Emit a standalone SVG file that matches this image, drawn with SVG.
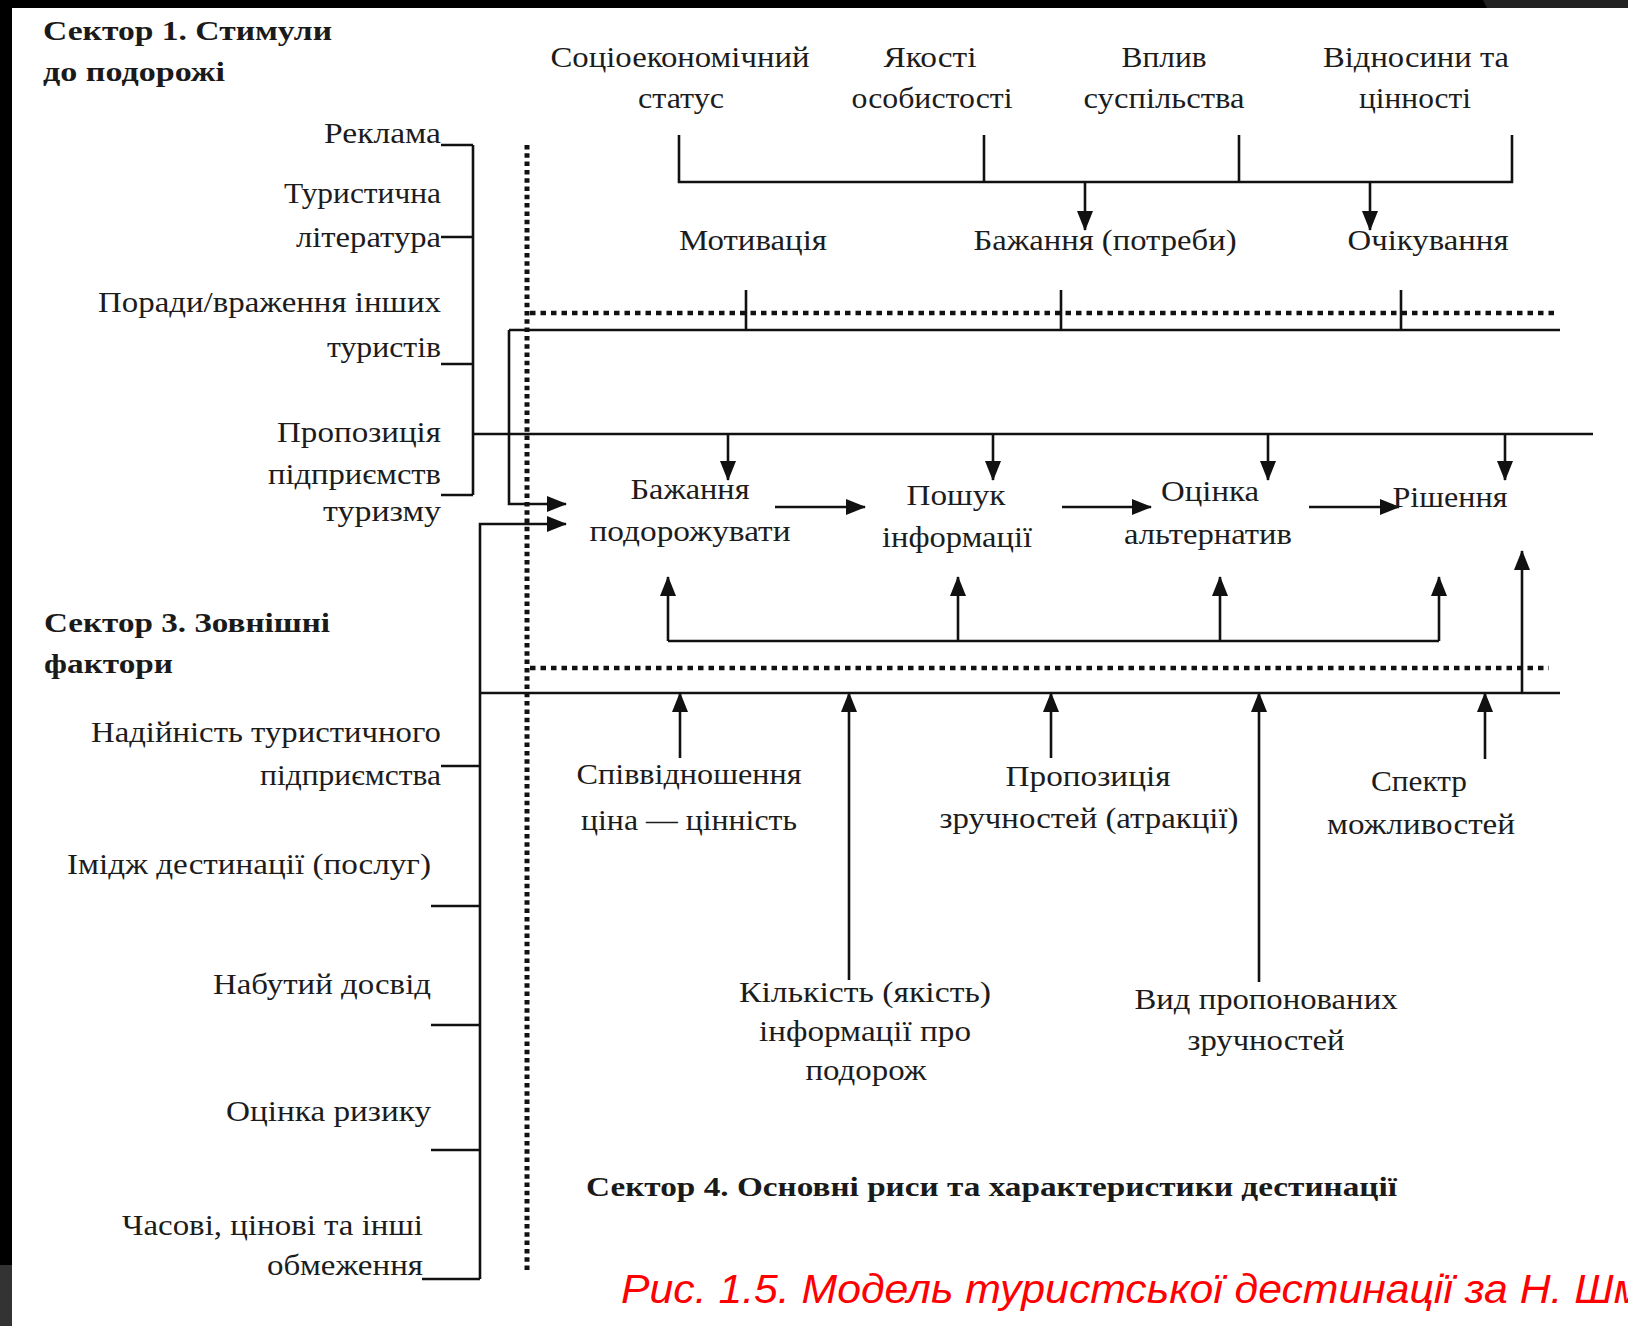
<svg xmlns="http://www.w3.org/2000/svg" width="1628" height="1326" viewBox="0 0 1628 1326">
<style>
.t{font-family:"Liberation Serif","Times New Roman",serif;font-size:29px;fill:#1c1c1c}
.b{font-family:"Liberation Serif","Times New Roman",serif;font-size:28px;font-weight:bold;fill:#1a1a1a}
.m{text-anchor:middle}
.e{text-anchor:end}
.cap{font-family:"Liberation Sans",Arial,sans-serif;font-style:italic;font-size:40px;fill:#ff0000}
.ln{fill:none;stroke:#111;stroke-width:2.6}
.ar{fill:none;stroke:#111;stroke-width:2.6;marker-end:url(#ah)}
.dv{fill:none;stroke:#111;stroke-width:5;stroke-dasharray:4.5 3.8}
.dh{fill:none;stroke:#111;stroke-width:4.5;stroke-dasharray:5.5 5}
</style>
<defs>
<marker id="ah" viewBox="0 0 20 16" refX="19" refY="8" markerWidth="20" markerHeight="16" markerUnits="userSpaceOnUse" orient="auto">
<path d="M0,0 L20,8 L0,16 z" fill="#111"/>
</marker>
</defs>
<rect width="1628" height="1326" fill="#ffffff"/>
<rect x="0" y="0" width="1628" height="8" fill="#000"/>
<polygon points="1483,0 1628,0 1628,8 1487,8" fill="#222"/>
<rect x="0" y="0" width="12" height="1265" fill="#000"/>
<rect x="0" y="1265" width="12" height="61" fill="#333"/>

<g id="connectors">
<path class="ln" d="M441,145 H473 M441,237 H473 M441,364 H473 M441,495 H473 M473,145 V495 M473,434 H1593"/>
<path class="ln" d="M679,135 V182 H1512 V135 M984,135 V182 M1239,135 V182"/>
<path class="ar" d="M1085,182 V230"/>
<path class="ar" d="M1370,182 V230"/>
<path class="ln" d="M746,290 V330 M1061,290 V330 M1401,290 V330"/>
<path class="dh" d="M530,313 H1555"/>
<path class="ln" d="M509,330 H1560"/>
<path class="ar" d="M509,330 V504 H566"/>
<path class="ar" d="M480,1279 V524 H566"/>
<path class="ln" d="M441,766 H480 M431,906 H480 M431,1025 H480 M431,1150 H480 M422,1279 H480"/>
<path class="ln" d="M480,693 H1560"/>
<path class="dh" d="M530,668 H1549"/>
<path class="dv" d="M527,145 V1272"/>
<path class="ar" d="M728,434 V480"/>
<path class="ar" d="M993,434 V480"/>
<path class="ar" d="M1268,434 V480"/>
<path class="ar" d="M1505,434 V480"/>
<path class="ar" d="M775,507 H865"/>
<path class="ar" d="M1062,507 H1151"/>
<path class="ar" d="M1309,507 H1399"/>
<path class="ln" d="M668,641 H1439"/>
<path class="ar" d="M668,641 V577"/>
<path class="ar" d="M958,641 V577"/>
<path class="ar" d="M1220,641 V577"/>
<path class="ar" d="M1439,641 V577"/>
<path class="ar" d="M1522,693 V551"/>
<path class="ar" d="M680,758 V693"/>
<path class="ar" d="M849,980 V693"/>
<path class="ar" d="M1051,758 V693"/>
<path class="ar" d="M1259,982 V693"/>
<path class="ar" d="M1485,759 V693"/>
</g>

<g id="sector1-title">
<text class="b" x="43" y="40" textLength="289" lengthAdjust="spacingAndGlyphs">Сектор 1. Стимули</text>
<text class="b" x="43" y="81" textLength="182" lengthAdjust="spacingAndGlyphs">до подорожі</text>
</g>
<g id="n-reklama"><text class="t e" x="441" y="143" textLength="117" lengthAdjust="spacingAndGlyphs">Реклама</text></g>
<g id="n-literatura">
<text class="t e" x="441" y="203" textLength="157" lengthAdjust="spacingAndGlyphs">Туристична</text>
<text class="t e" x="441" y="247" textLength="145" lengthAdjust="spacingAndGlyphs">література</text>
</g>
<g id="n-porady">
<text class="t e" x="441" y="312" textLength="343" lengthAdjust="spacingAndGlyphs">Поради/враження інших</text>
<text class="t e" x="441" y="357" textLength="114" lengthAdjust="spacingAndGlyphs">туристів</text>
</g>
<g id="n-propozytsia-pidpr">
<text class="t e" x="441" y="442" textLength="164" lengthAdjust="spacingAndGlyphs">Пропозиція</text>
<text class="t e" x="441" y="484" textLength="173" lengthAdjust="spacingAndGlyphs">підприємств</text>
<text class="t e" x="441" y="521" textLength="118" lengthAdjust="spacingAndGlyphs">туризму</text>
</g>

<g id="n-socio">
<text class="t m" x="680" y="67" textLength="259" lengthAdjust="spacingAndGlyphs">Соціоекономічний</text>
<text class="t m" x="681" y="108" textLength="86" lengthAdjust="spacingAndGlyphs">статус</text>
</g>
<g id="n-yakosti">
<text class="t m" x="930" y="67" textLength="93" lengthAdjust="spacingAndGlyphs">Якості</text>
<text class="t m" x="932" y="108" textLength="161" lengthAdjust="spacingAndGlyphs">особистості</text>
</g>
<g id="n-vplyv">
<text class="t m" x="1164" y="67" textLength="85" lengthAdjust="spacingAndGlyphs">Вплив</text>
<text class="t m" x="1164" y="108" textLength="161" lengthAdjust="spacingAndGlyphs">суспільства</text>
</g>
<g id="n-vidnosyny">
<text class="t m" x="1416" y="67" textLength="186" lengthAdjust="spacingAndGlyphs">Відносини та</text>
<text class="t m" x="1415" y="108" textLength="112" lengthAdjust="spacingAndGlyphs">цінності</text>
</g>

<g id="n-motyvatsia"><text class="t m" x="753" y="250" textLength="148" lengthAdjust="spacingAndGlyphs">Мотивація</text></g>
<g id="n-bazhannia-potreby"><text class="t m" x="1105" y="250" textLength="263" lengthAdjust="spacingAndGlyphs">Бажання (потреби)</text></g>
<g id="n-ochikuvannia"><text class="t m" x="1428" y="250" textLength="161" lengthAdjust="spacingAndGlyphs">Очікування</text></g>

<g id="n-bazhannia-podor">
<text class="t m" x="690" y="499" textLength="119" lengthAdjust="spacingAndGlyphs">Бажання</text>
<text class="t m" x="690" y="541" textLength="201" lengthAdjust="spacingAndGlyphs">подорожувати</text>
</g>
<g id="n-poshuk">
<text class="t m" x="956" y="505" textLength="99" lengthAdjust="spacingAndGlyphs">Пошук</text>
<text class="t m" x="957" y="547" textLength="150" lengthAdjust="spacingAndGlyphs">інформації</text>
</g>
<g id="n-otsinka-alt">
<text class="t m" x="1210" y="501" textLength="98" lengthAdjust="spacingAndGlyphs">Оцінка</text>
<text class="t m" x="1208" y="544" textLength="168" lengthAdjust="spacingAndGlyphs">альтернатив</text>
</g>
<g id="n-rishennia"><text class="t m" x="1450" y="507" textLength="115" lengthAdjust="spacingAndGlyphs">Рішення</text></g>

<g id="sector3-title">
<text class="b" x="44" y="632" textLength="286" lengthAdjust="spacingAndGlyphs">Сектор 3. Зовнішні</text>
<text class="b" x="44" y="673" textLength="129" lengthAdjust="spacingAndGlyphs">фактори</text>
</g>
<g id="n-nadiinist">
<text class="t e" x="441" y="742" textLength="350" lengthAdjust="spacingAndGlyphs">Надійність туристичного</text>
<text class="t e" x="441" y="785" textLength="181" lengthAdjust="spacingAndGlyphs">підприємства</text>
</g>
<g id="n-imidzh"><text class="t e" x="431" y="874" textLength="364" lengthAdjust="spacingAndGlyphs">Імідж дестинації (послуг)</text></g>
<g id="n-dosvid"><text class="t e" x="431" y="994" textLength="218" lengthAdjust="spacingAndGlyphs">Набутий досвід</text></g>
<g id="n-ryzyk"><text class="t e" x="431" y="1121" textLength="205" lengthAdjust="spacingAndGlyphs">Оцінка ризику</text></g>
<g id="n-obmezhennia">
<text class="t e" x="423" y="1235" textLength="301" lengthAdjust="spacingAndGlyphs">Часові, цінові та інші</text>
<text class="t e" x="423" y="1275" textLength="156" lengthAdjust="spacingAndGlyphs">обмеження</text>
</g>

<g id="n-tsina">
<text class="t m" x="689" y="784" textLength="225" lengthAdjust="spacingAndGlyphs">Співвідношення</text>
<text class="t m" x="689" y="830" textLength="216" lengthAdjust="spacingAndGlyphs">ціна — цінність</text>
</g>
<g id="n-kilkist">
<text class="t m" x="865" y="1002" textLength="252" lengthAdjust="spacingAndGlyphs">Кількість (якість)</text>
<text class="t m" x="865" y="1041" textLength="212" lengthAdjust="spacingAndGlyphs">інформації про</text>
<text class="t m" x="866" y="1080" textLength="121" lengthAdjust="spacingAndGlyphs">подорож</text>
</g>
<g id="n-propozytsia-zruchn">
<text class="t m" x="1088" y="786" textLength="165" lengthAdjust="spacingAndGlyphs">Пропозиція</text>
<text class="t m" x="1089" y="828" textLength="299" lengthAdjust="spacingAndGlyphs">зручностей (атракції)</text>
</g>
<g id="n-spektr">
<text class="t m" x="1419" y="791" textLength="96" lengthAdjust="spacingAndGlyphs">Спектр</text>
<text class="t m" x="1421" y="834" textLength="188" lengthAdjust="spacingAndGlyphs">можливостей</text>
</g>
<g id="n-vyd">
<text class="t m" x="1266" y="1009" textLength="263" lengthAdjust="spacingAndGlyphs">Вид пропонованих</text>
<text class="t m" x="1266" y="1050" textLength="157" lengthAdjust="spacingAndGlyphs">зручностей</text>
</g>

<g id="sector4-title">
<text class="b" x="586" y="1196" textLength="811" lengthAdjust="spacingAndGlyphs">Сектор 4. Основні риси та характеристики дестинації</text>
</g>
<g id="caption">
<text class="cap" x="621" y="1303" textLength="1022" lengthAdjust="spacingAndGlyphs">Рис. 1.5. Модель туристської дестинації за Н. Шм</text>
</g>
</svg>
